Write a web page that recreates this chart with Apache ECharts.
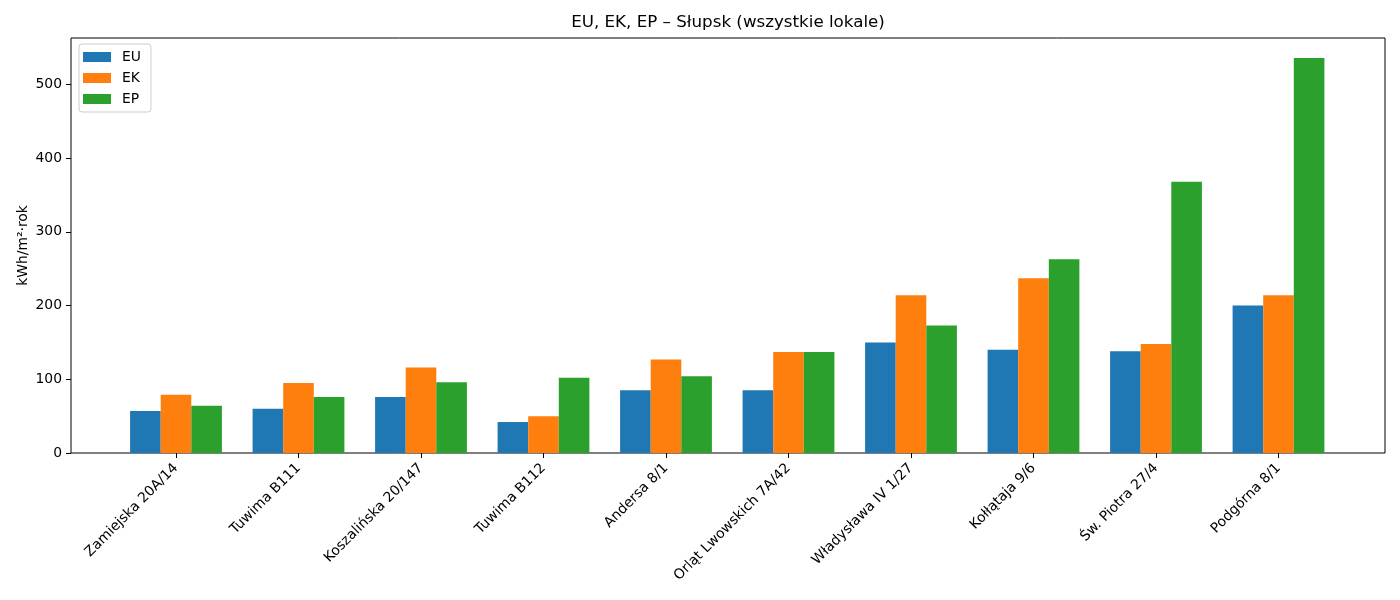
<!DOCTYPE html>
<html>
<head>
<meta charset="utf-8">
<script src="https://cdn.jsdelivr.net/npm/echarts@6/dist/echarts.min.js"></script>
<style>
  html, body { margin: 0; padding: 0; background: #fff; }
  #main { width: 1400px; height: 600px; }
</style>
</head>
<body>
<div id="main"></div>
<script>
var categories = ['Zamiejska 20A/14', 'Tuwima B111', 'Koszalińska 20/147', 'Tuwima B112', 'Andersa 8/1',
    'Orląt Lwowskich 7A/42', 'Władysława IV 1/27', 'Kołłątaja 9/6', 'Św. Piotra 27/4', 'Podgórna 8/1'];
var euValues = [57, 60, 76, 42, 85, 85, 150, 140, 138, 200];
var ekValues = [79, 95, 116, 50, 127, 137, 214, 237, 148, 214];
var epValues = [64, 76, 96, 102, 104, 137, 173, 263, 368, 536];
var yTicks = [0, 100, 200, 300, 400, 500];
var yMax = 563;

var font = 'DejaVu Sans';
var chart = echarts.init(document.getElementById('main'));

// grid 0 holds the bars (narrower, like matplotlib margins), grid 1 draws the frame and y axis
var barGrid = { left: 114.75, top: 38, width: 1225, height: 415, outerBoundsMode: 'none' };
var frameGrid = { left: 71, top: 38, width: 1314, height: 415, show: true,
    borderColor: '#000', borderWidth: 1, backgroundColor: 'transparent', outerBoundsMode: 'none' };

var option = {
    animation: false,
    textStyle: { fontFamily: font },
    title: {
        text: 'EU, EK, EP – Słupsk (wszystkie lokale)',
        left: 728, top: 14, textAlign: 'center', padding: 0,
        textStyle: { fontFamily: font, fontSize: 16.7, fontWeight: 'normal', color: '#000' }
    },
    legend: {
        data: ['EU', 'EK', 'EP'],
        orient: 'vertical', left: 79, top: 44,
        icon: 'rect', itemWidth: 28, itemHeight: 10, itemGap: 7,
        padding: [6, 10, 6, 4],
        borderColor: '#ccc', borderWidth: 1, borderRadius: 3,
        backgroundColor: 'rgba(255,255,255,0.8)',
        textStyle: { fontFamily: font, fontSize: 13.9, color: '#000', padding: [0, 0, 0, 6] }
    },
    grid: [barGrid, frameGrid],
    xAxis: [{
        type: 'category', gridIndex: 0, data: categories,
        axisLine: { show: false },
        axisTick: { show: true, alignWithLabel: true, length: 5, lineStyle: { color: '#000' } },
        axisLabel: { rotate: 45, margin: 13, fontFamily: font, fontSize: 13.9, color: '#000', interval: 0 },
        splitLine: { show: false }
    }, {
        type: 'value', gridIndex: 1, show: false
    }],
    yAxis: [{
        type: 'value', gridIndex: 0, min: 0, max: yMax, show: false, splitLine: { show: false }
    }, {
        type: 'value', gridIndex: 1, min: 0, max: yMax,
        name: 'kWh/m²·rok', nameLocation: 'middle', nameGap: 41, nameMoveOverlap: false,
        nameTextStyle: { fontFamily: font, fontSize: 13.9, color: '#000' },
        axisLine: { show: false },
        axisTick: { show: true, length: 5, customValues: yTicks, lineStyle: { color: '#000' } },
        axisLabel: { customValues: yTicks, margin: 9, fontFamily: font, fontSize: 13.9, color: '#000' },
        splitLine: { show: false }
    }],
    series: [
        { name: 'EU', type: 'bar', xAxisIndex: 0, yAxisIndex: 0, data: euValues,
          barWidth: 30.6, barGap: '0%', itemStyle: { color: '#1f77b4' } },
        { name: 'EK', type: 'bar', xAxisIndex: 0, yAxisIndex: 0, data: ekValues,
          barWidth: 30.6, barGap: '0%', itemStyle: { color: '#ff7f0e' } },
        { name: 'EP', type: 'bar', xAxisIndex: 0, yAxisIndex: 0, data: epValues,
          barWidth: 30.6, barGap: '0%', itemStyle: { color: '#2ca02c' } }
    ]
};

chart.setOption(option);
window.onresize = chart.resize;
</script>
</body>
</html>
